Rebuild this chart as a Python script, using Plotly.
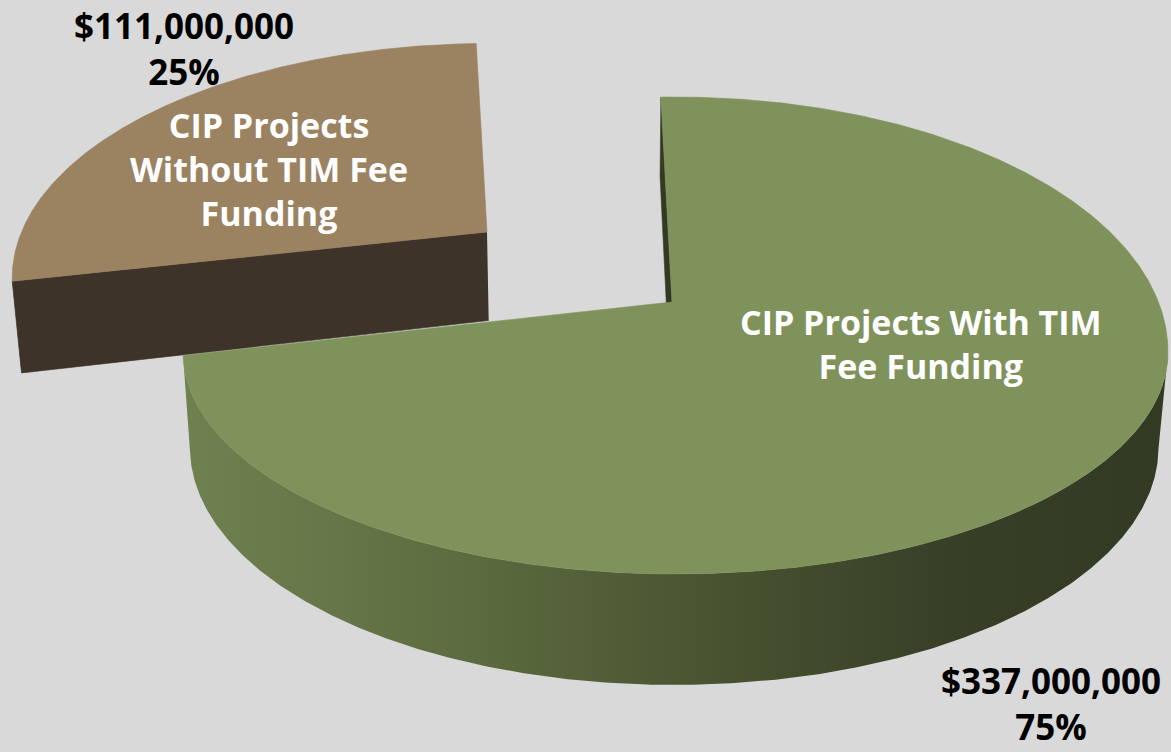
import numpy as np
import plotly.graph_objects as go

# ---------------- data ----------------
categories = ["CIP Projects With TIM Fee Funding", "CIP Projects Without TIM Fee Funding"]
slice_labels = ["CIP Projects With TIM<br>Fee Funding", "CIP Projects<br>Without TIM Fee<br>Funding"]
values = [337000000, 111000000]
exploded = [False, True]

# ---------------- style / layout ----------------
W, H = 1171, 752
BG = "#d9d9d9"
TOP_COLORS = ["#80925b", "#9b8261"]
SIDE_COLORS = ["#323a23", "#3d3328"]
EDGE_COLORS = ["#323a23", "#84704f"]
WALL_SCALES = [
    [[0.0, "#708150"], [0.27, "#5e6d41"], [0.52, "#4a5531"], [0.78, "#373f27"], [1.0, "#323a23"]],
    [[0.0, "#3d3328"], [1.0, "#3d3328"]],
]
FONT = "Open Sans"

# pseudo-perspective projection of the pie (pixel space)
CX, CY = 675.5, 352.0          # centre line of top ellipse
A, B_UP, B_LO = 492.5, 255.0, 222.0
APEX = (672.0, 302.0)          # projected pie centre (top)
START_DEG = 91.7               # 12 o'clock, slices run clockwise
TH0, TH_Q = 96.4, 0.151        # thickness and its depth variation
VVX, VVY = 600.0, 6100.0       # vanishing point of vertical edges
PULL = (-185.0, -70.0)         # explode offset
PULL_SCALE = (0.971, 0.92)     # exploded slice is farther away

LABEL_POS = [(921, 344), (269, 169)]
VALUE_POS = [(1051, 751, "bottom"), (184, 48, "middle")]


def ell(t):
    r = np.radians(t)
    s = np.sin(r)
    b = np.where(s > 0, B_UP, B_LO)
    return CX + A * np.cos(r), CY - b * s


def rim(t, k):
    ex, ey = ell(t)
    if exploded[k]:
        ax, ay = APEX[0] + PULL[0], APEX[1] + PULL[1]
        sx, sy = PULL_SCALE
    else:
        ax, ay = APEX
        sx, sy = 1.0, 1.0
    return ax + sx * (ex - APEX[0]), ay + sy * (ey - APEX[1])


def apex(k):
    if exploded[k]:
        return APEX[0] + PULL[0], APEX[1] + PULL[1]
    return APEX


def drop(x, y):
    x = np.asarray(x, float)
    y = np.asarray(y, float)
    th = TH0 * (1 + TH_Q * (y - CY) / B_LO)
    return x + (VVX - x) * th / (VVY - y), y + th


def poly(xs, ys, color=None, grad=None):
    kw = dict(x=list(xs), y=list(ys), mode="lines", fill="toself",
              hoverinfo="skip", showlegend=False)
    if grad is not None:
        kw["line"] = dict(width=0)
        kw["fillgradient"] = grad
    else:
        kw["line"] = dict(width=0.6, color=color)
        kw["fillcolor"] = color
    return go.Scatter(**kw)


total = float(sum(values))
angles = []
t0 = START_DEG
for v in values:
    sweep = 360.0 * v / total
    angles.append((t0, t0 - sweep))
    t0 -= sweep

fig = go.Figure()

draw_order = [1, 0]  # exploded (back) slice first
for k in draw_order:
    ts, te = angles[k]
    axp, ayp = apex(k)
    abx, aby = drop(axp, ayp)
    # radial cut faces
    for which, t in (("start", ts), ("end", te)):
        rx, ry = rim(t, k)
        bx, by = drop(rx, ry)
        px = [axp, float(rx), float(bx), float(abx)]
        py = [ayp, float(ry), float(by), float(aby)]
        area = sum(px[i] * py[(i + 1) % 4] - px[(i + 1) % 4] * py[i] for i in range(4))
        visible = area < 0 if which == "start" else area > 0
        if visible:
            col = EDGE_COLORS[k] if abs(py[1] - py[0]) > abs(px[1] - px[0]) else SIDE_COLORS[k]
            fig.add_trace(poly(px, py, col))
    # outer wall (front half only)
    tt = np.linspace(ts, te, 600)
    front = np.sin(np.radians(tt)) <= 0.0
    if front.sum() > 2:
        idx = np.where(front)[0]
        seg = tt[idx[0]: idx[-1] + 1]
        rx, ry = rim(seg, k)
        bx, by = drop(rx, ry)
        xs = np.concatenate([rx, bx[::-1]])
        ys = np.concatenate([ry, by[::-1]])
        grad = dict(type="horizontal", colorscale=WALL_SCALES[k],
                    start=float(xs.min()), stop=float(xs.max()))
        fig.add_trace(poly(xs, ys, grad=grad))
    # top face
    rx, ry = rim(tt, k)
    xs = np.concatenate([[axp], rx, [axp]])
    ys = np.concatenate([[ayp], ry, [ayp]])
    fig.add_trace(poly(xs, ys, TOP_COLORS[k]))

annotations = []
for k in range(len(values)):
    lx, ly = LABEL_POS[k]
    annotations.append(dict(x=lx, y=ly, xref="x", yref="y", showarrow=False,
                            text="<b>" + slice_labels[k] + "</b>",
                            font=dict(family=FONT, size=34, color="white"),
                            xanchor="center", yanchor="middle", align="center"))
    vx, vy, va = VALUE_POS[k]
    pct = round(100 * values[k] / total)
    annotations.append(dict(x=vx, y=vy, xref="x", yref="y", showarrow=False,
                            text=f"<b>${values[k]:,.0f}<br>{pct}%</b>",
                            font=dict(family=FONT, size=35, color="black"),
                            xanchor="center", yanchor=va, align="center",
                            borderpad=0))

fig.update_layout(
    width=W, height=H,
    margin=dict(l=0, r=0, t=0, b=0),
    paper_bgcolor=BG, plot_bgcolor=BG,
    xaxis=dict(range=[0, W], visible=False, fixedrange=True),
    yaxis=dict(range=[H, 0], visible=False, fixedrange=True),
    annotations=annotations,
    showlegend=False,
)

fig.write_html(
    "out.html",
    config={"displayModeBar": False},
    post_script="document.body.style.margin='0px';document.body.style.overflow='hidden';"
                "document.body.style.background='#d9d9d9';",
)
